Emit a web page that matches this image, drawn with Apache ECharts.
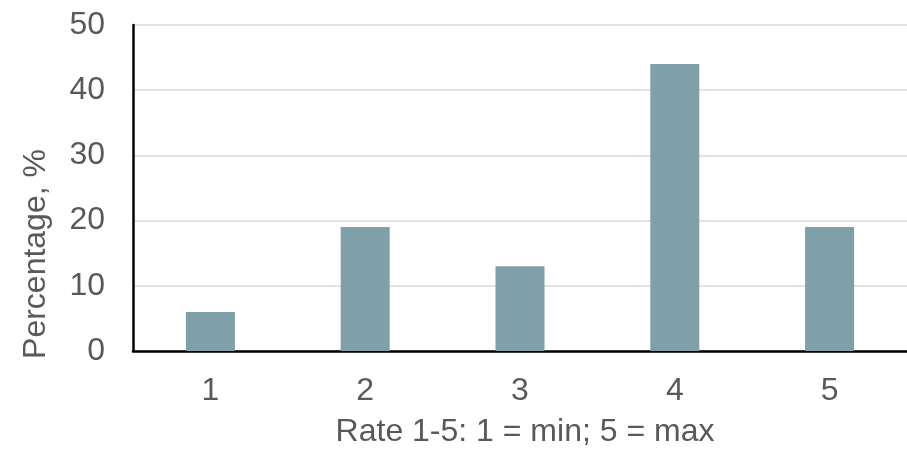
<!DOCTYPE html>
<html>
<head>
<meta charset="utf-8">
<script src="https://cdn.jsdelivr.net/npm/echarts@6/dist/echarts.min.js"></script>
<style>html,body{margin:0;padding:0;background:#fff}#c{width:907px;height:450px}</style>
</head>
<body>
<div id="c"></div>
<script>
var categories = ['1', '2', '3', '4', '5'];
var percentages = [6, 19, 13, 44, 19];
var yTicks = [0, 10, 20, 30, 40, 50];
var xTitle = 'Rate 1-5: 1 = min; 5 = max';
var yTitle = 'Percentage, %';

var chart = echarts.init(document.getElementById('c'), null, {renderer: 'canvas'});
var font = 'Liberation Sans, Arial, Helvetica, sans-serif';
chart.setOption({
  animation: false,
  grid: {left: 133, right: 0, top: 25, bottom: 99, containLabel: false, outerBoundsMode: 'none'},
  xAxis: {
    type: 'category',
    data: categories,
    axisLine: {lineStyle: {color: '#000', width: 2.5}},
    axisTick: {show: false},
    axisLabel: {color: '#595959', fontSize: 32, fontFamily: font, margin: 24},
    name: xTitle,
    nameLocation: 'middle',
    nameGap: 65,
    nameTextStyle: {color: '#595959', fontSize: 32, fontFamily: font, padding: [0, 0, 0, 10]}
  },
  yAxis: {
    type: 'value',
    min: yTicks[0],
    max: yTicks[yTicks.length - 1],
    interval: 10,
    axisLine: {show: true, lineStyle: {color: '#000', width: 2.5}},
    axisTick: {show: false},
    axisLabel: {color: '#595959', fontSize: 32, fontFamily: font, margin: 28},
    splitLine: {lineStyle: {color: '#d9d9d9', width: 1.5}}
  },
  graphic: [{
    type: 'text',
    x: 36, y: 254,
    rotation: Math.PI / 2,
    style: {text: yTitle, fill: '#595959', font: '32px ' + font, textAlign: 'center', textVerticalAlign: 'middle'}
  }],
  series: [{
    type: 'bar',
    data: percentages,
    barWidth: 49,
    itemStyle: {color: '#7fa0a9'}
  }]
});
</script>
</body>
</html>
